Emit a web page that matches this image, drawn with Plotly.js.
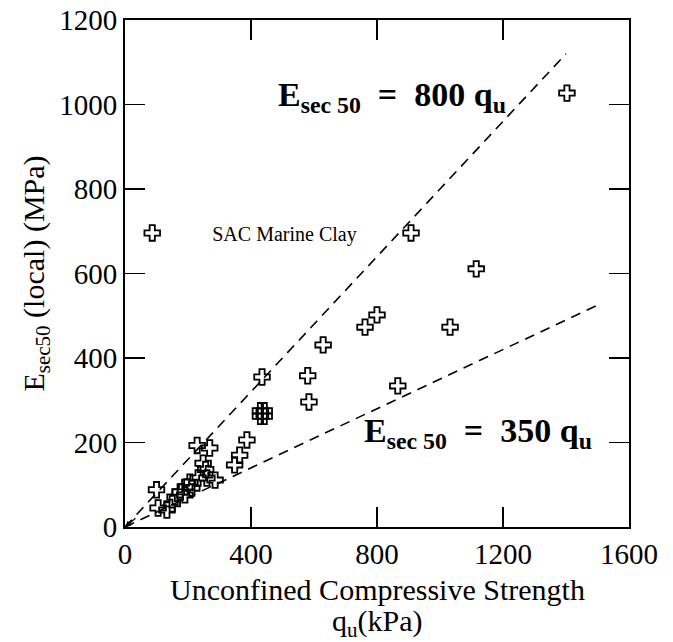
<!DOCTYPE html>
<html>
<head>
<meta charset="utf-8">
<script src="https://cdn.plot.ly/plotly-3.0.1.min.js"></script>
<style>html,body{margin:0;padding:0;background:#fff;}#chart{width:673px;height:642px;}</style>
</head>
<body>
<div id="chart"></div>
<script>
// Measured data: unconfined compressive strength qu (kPa) vs Esec50 (MPa)
var qu = [1403, 908, 1115, 800, 762, 1032, 629, 580, 584, 866, 435, 430, 442, 430, 442, 387, 364, 348, 229, 269, 248, 256, 286, 260, 232, 206, 196, 212, 175, 190, 159, 100, 105, 133, 150];
var esec = [1027, 696, 611, 502, 473, 473, 431, 358, 296, 334, 355, 262, 262, 275, 275, 206, 170, 147, 193, 187, 151, 136, 111, 116, 116, 106, 95, 92, 83, 76, 71, 88, 45, 40, 55];

// Reference lines Esec50 = 800 qu and Esec50 = 350 qu (endpoints)
var line800_x = [0, 1400];
var line800_y = [0, 1120];
var line350_x = [0, 1500];
var line350_y = [0, 525];

var xTicks = [0, 400, 800, 1200, 1600];
var yTicks = [0, 200, 400, 600, 800, 1000, 1200];

var xTitleLine1 = 'Unconfined Compressive Strength';
var xTitleLine2 = 'q<sub>u</sub>(kPa)';

var serif = 'Liberation Serif';

var traces = [
  {x: line800_x, y: line800_y, mode: 'lines', type: 'scatter', showlegend: false,
   line: {color: 'black', width: 1.6, dash: '10px,7px'}, hoverinfo: 'skip'},
  {x: line350_x, y: line350_y, mode: 'lines', type: 'scatter', showlegend: false,
   line: {color: 'black', width: 1.6, dash: '10px,7px'}, hoverinfo: 'skip'},
  {x: qu, y: esec, mode: 'markers', type: 'scatter', name: 'SAC Marine Clay',
   marker: {symbol: 'cross-open', size: 13, color: 'black', line: {color: 'black', width: 1.8}}}
];

function axisBase() {
  return {
    showline: true, linecolor: 'black', linewidth: 2, mirror: 'ticks',
    ticks: 'inside', ticklen: 20, tickwidth: 1.5, tickcolor: 'black',
    showgrid: false, zeroline: false,
    tickfont: {family: serif, size: 29, color: 'black'}
  };
}

var xaxis = axisBase();
xaxis.range = [0, 1600];
xaxis.tickvals = xTicks;
xaxis.ticktext = xTicks.map(String);

var yaxis = axisBase();
yaxis.range = [0, 1200];
yaxis.tickvals = yTicks;
yaxis.ticktext = yTicks.map(String);
yaxis.title = {text: 'E<sub>sec50</sub> (local) (MPa)', font: {family: serif, size: 30, color: 'black'}, standoff: 6};

var titleFont = {family: serif, size: 30, color: 'black'};

var layout = {
  width: 673, height: 642,
  margin: {l: 125, r: 44, t: 20, b: 115},
  paper_bgcolor: 'white', plot_bgcolor: 'white',
  font: {family: serif, color: 'black'},
  xaxis: xaxis,
  yaxis: yaxis,
  showlegend: true,
  legend: {x: -0.065, y: 0.58, xanchor: 'left', yanchor: 'middle', bgcolor: 'rgba(0,0,0,0)',
           font: {family: serif, size: 20, color: 'black'}, itemwidth: 110, itemsizing: 'trace'},
  annotations: [
    {x: 0.5, y: -0.124, xref: 'paper', yref: 'paper', showarrow: false, xanchor: 'center', yanchor: 'middle',
     text: xTitleLine1, font: titleFont},
    {x: 0.5, y: -0.19, xref: 'paper', yref: 'paper', showarrow: false, xanchor: 'center', yanchor: 'middle',
     text: xTitleLine2, font: titleFont},
    {x: 848, y: 1018, xref: 'x', yref: 'y', showarrow: false, xanchor: 'center', yanchor: 'middle',
     text: '<b>E<sub>sec 50</sub>  =  800 q<sub>u</sub></b>', font: {family: serif, size: 34, color: 'black'}},
    {x: 1122, y: 222, xref: 'x', yref: 'y', showarrow: false, xanchor: 'center', yanchor: 'middle',
     text: '<b>E<sub>sec 50</sub>  =  350 q<sub>u</sub></b>', font: {family: serif, size: 34, color: 'black'}},
    {x: 0, y: 0, xref: 'x', yref: 'y', text: '', showarrow: true, ax: 12, ay: -10,
     arrowhead: 2, arrowsize: 1, arrowwidth: 1.2, arrowcolor: 'black'}
  ]
};

Plotly.newPlot('chart', traces, layout, {displayModeBar: false, staticPlot: true});
</script>
</body>
</html>
